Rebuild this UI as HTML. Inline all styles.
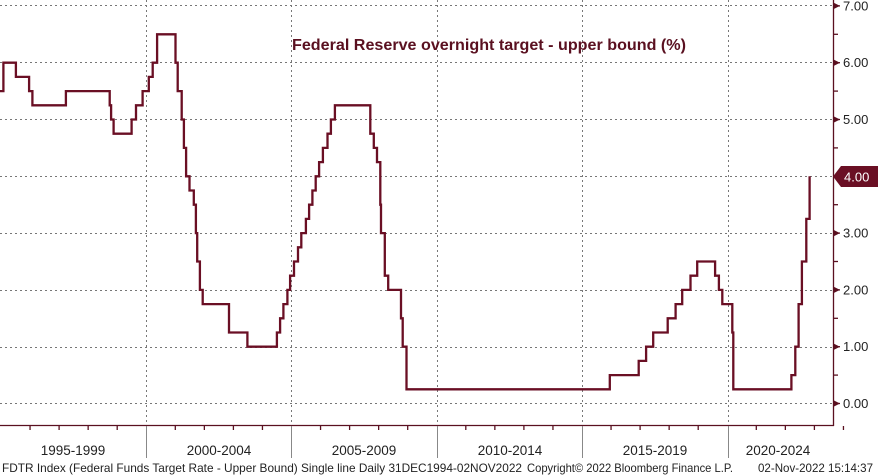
<!DOCTYPE html>
<html><head><meta charset="utf-8"><style>
html,body{margin:0;padding:0;background:#fff;}
svg{display:block;}
text{font-family:"Liberation Sans","DejaVu Sans",sans-serif;}
</style></head><body>
<svg id="s" width="878" height="476" viewBox="0 0 878 476" xmlns="http://www.w3.org/2000/svg">
<g stroke="#777" stroke-width="1" stroke-dasharray="2,3" fill="none">
<line x1="0" y1="5.5" x2="833" y2="5.5"/>
<line x1="0" y1="62.5" x2="833" y2="62.5"/>
<line x1="0" y1="119.5" x2="833" y2="119.5"/>
<line x1="0" y1="176.5" x2="833" y2="176.5"/>
<line x1="0" y1="233.5" x2="833" y2="233.5"/>
<line x1="0" y1="290.5" x2="833" y2="290.5"/>
<line x1="0" y1="347.5" x2="833" y2="347.5"/>
<line x1="0" y1="403.5" x2="833" y2="403.5"/>
<line x1="146.5" y1="0" x2="146.5" y2="425"/>
<line x1="291.5" y1="0" x2="291.5" y2="425"/>
<line x1="437.5" y1="0" x2="437.5" y2="425"/>
<line x1="582.5" y1="0" x2="582.5" y2="425"/>
<line x1="728.5" y1="0" x2="728.5" y2="425"/>
</g>
<g id="ax" stroke="#5a1020" stroke-width="1.3" fill="none">
<line x1="0" y1="425.5" x2="834" y2="425.5"/>
<line x1="833.5" y1="0" x2="833.5" y2="426"/>
</g>
<g stroke="#888" stroke-width="1">
<line x1="146.5" y1="426" x2="146.5" y2="458"/>
<line x1="291.5" y1="426" x2="291.5" y2="458"/>
<line x1="437.5" y1="426" x2="437.5" y2="458"/>
<line x1="582.5" y1="426" x2="582.5" y2="458"/>
<line x1="728.5" y1="426" x2="728.5" y2="458"/>
</g>
<g font-size="13.5" fill="#222" text-anchor="middle">
<text x="73" y="455">1995-1999</text>
<text x="219" y="455">2000-2004</text>
<text x="364" y="455">2005-2009</text>
<text x="510" y="455">2010-2014</text>
<text x="655" y="455">2015-2019</text>
<text x="778" y="455">2020-2024</text>
</g>
<g font-size="12" fill="#222">
<text x="2" y="472" textLength="520" lengthAdjust="spacingAndGlyphs">FDTR Index (Federal Funds Target Rate - Upper Bound) Single line  Daily 31DEC1994-02NOV2022</text>
<text x="527" y="472" textLength="206" lengthAdjust="spacingAndGlyphs">Copyright© 2022 Bloomberg Finance L.P.</text>
<text x="758" y="472" textLength="115" lengthAdjust="spacingAndGlyphs">02-Nov-2022 15:14:37</text>
</g>
<text x="489" y="50" text-anchor="middle" font-size="15.5" font-weight="bold" fill="#5a1020" textLength="394" lengthAdjust="spacingAndGlyphs">Federal Reserve overnight target - upper bound (%)</text>
<g id="yl" font-size="13" fill="#222"></g>
<path id="line" fill="none" stroke="#6a0f24" stroke-width="2.3" stroke-linejoin="miter"/>
<polygon points="833,176.5 841,166 878,166 878,187 841,187" fill="#6a0f24"/>
<text x="844" y="181.5" font-size="13" fill="#fff">4.00</text>
</svg>
<script>
var Y=function(v){return 403.5-56.8*v;};
var g=document.getElementById('yl'),ax=document.getElementById('ax'),ns="http://www.w3.org/2000/svg";
for(var i=0;i<=14;i++){var v=i/2,y=Y(v);
 var l=document.createElementNS(ns,'line');l.setAttribute('x1',834);l.setAttribute('x2',i%2?838:840);l.setAttribute('y1',y);l.setAttribute('y2',y);ax.appendChild(l);
 if(i%2==0&&i!=8){var p=document.createElementNS(ns,'polygon');p.setAttribute('points',(834)+','+(y-3)+' '+840+','+y+' '+834+','+(y+3));p.setAttribute('fill','#5a1020');g.appendChild(p);
 var t=document.createElementNS(ns,'text');t.setAttribute('x',843);t.setAttribute('y',y+4.5);t.textContent=v.toFixed(2);g.appendChild(t);}}
for(var yr=1996;yr<2025;yr++){var x=1+(yr-1995)*29.05;if((yr-1995)%5==0)continue;var l=document.createElementNS(ns,'line');l.setAttribute('x1',x);l.setAttribute('x2',x);l.setAttribute('y1',426);l.setAttribute('y2',430);ax.appendChild(l);}
var d=[[1995,1,1,5.5],[1995,2,1,6],[1995,7,6,5.75],[1995,12,19,5.5],[1996,1,31,5.25],[1997,3,25,5.5],[1998,9,29,5.25],[1998,10,15,5],[1998,11,17,4.75],[1999,6,30,5],[1999,8,24,5.25],[1999,11,16,5.5],[2000,2,2,5.75],[2000,3,21,6],[2000,5,16,6.5],[2001,1,3,6],[2001,1,31,5.5],[2001,3,20,5],[2001,4,18,4.5],[2001,5,15,4],[2001,6,27,3.75],[2001,8,21,3.5],[2001,9,17,3],[2001,10,2,2.5],[2001,11,6,2],[2001,12,11,1.75],[2002,11,6,1.25],[2003,6,25,1],[2004,6,30,1.25],[2004,8,10,1.5],[2004,9,21,1.75],[2004,11,10,2],[2004,12,14,2.25],[2005,2,2,2.5],[2005,3,22,2.75],[2005,5,3,3],[2005,6,30,3.25],[2005,8,9,3.5],[2005,9,20,3.75],[2005,11,1,4],[2005,12,13,4.25],[2006,1,31,4.5],[2006,3,28,4.75],[2006,5,10,5],[2006,6,29,5.25],[2007,9,18,4.75],[2007,10,31,4.5],[2007,12,11,4.25],[2008,1,22,3.5],[2008,1,30,3],[2008,3,18,2.25],[2008,4,30,2],[2008,10,8,1.5],[2008,10,29,1],[2008,12,16,0.25],[2015,12,16,0.5],[2016,12,14,0.75],[2017,3,15,1],[2017,6,14,1.25],[2017,12,13,1.5],[2018,3,21,1.75],[2018,6,13,2],[2018,9,26,2.25],[2018,12,19,2.5],[2019,7,31,2.25],[2019,9,18,2],[2019,10,30,1.75],[2020,3,3,1.25],[2020,3,16,0.25],[2022,3,16,0.5],[2022,5,4,1],[2022,6,15,1.75],[2022,7,27,2.5],[2022,9,21,3.25],[2022,11,2,4]];
function X(a){return 1+(a[0]-1995+(a[1]-1)/12+(a[2]-1)/365)*29.05;}
var s='M0,'+Y(5.5);
for(var i=0;i<d.length;i++){var x=X(d[i]).toFixed(1);s+=' H'+x+' V'+Y(d[i][3]).toFixed(1);}
document.getElementById('line').setAttribute('d',s);
</script>
</body></html>
